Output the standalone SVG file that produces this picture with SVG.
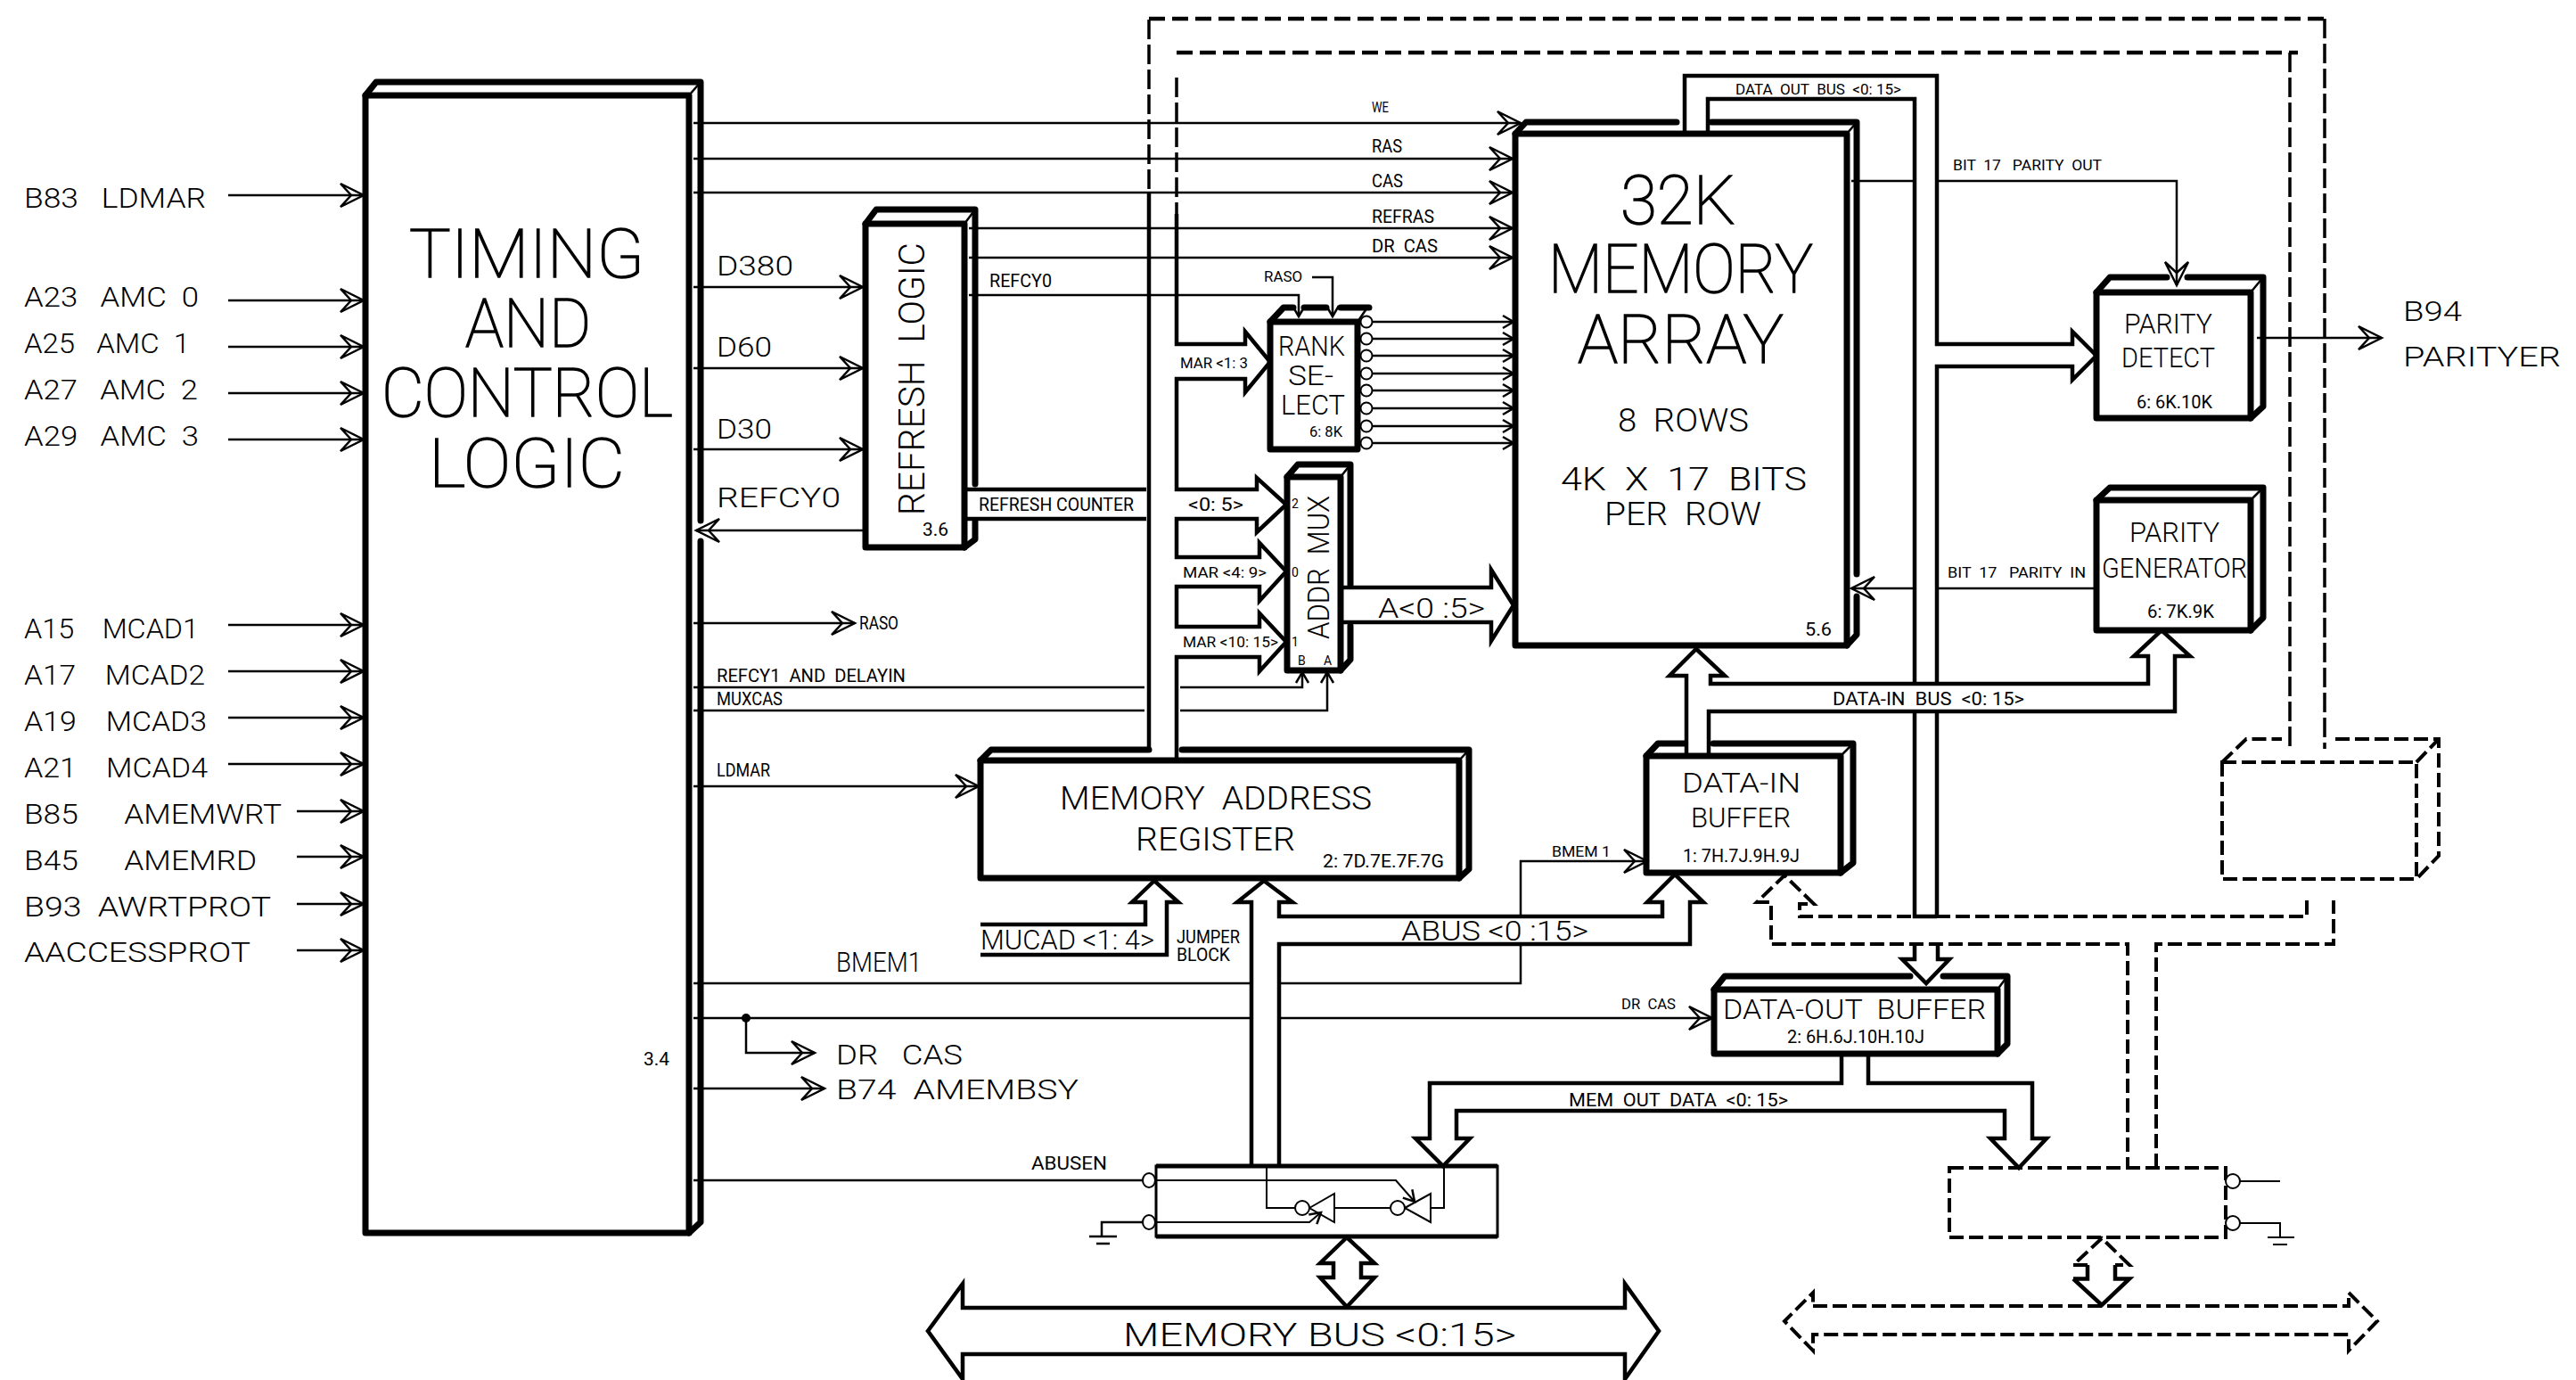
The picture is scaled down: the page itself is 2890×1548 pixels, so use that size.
<svg xmlns="http://www.w3.org/2000/svg" width="2890" height="1548" viewBox="0 0 2890 1548">
<style>
text{font-family:"Roboto","Liberation Sans",sans-serif;fill:#000;white-space:pre;font-weight:300}
.s76{font-size:76px;font-weight:100;stroke:#000;stroke-width:1.6}.s36{font-size:37px;font-weight:300}.s31{font-size:31px}.s20{font-size:20px;font-weight:400}.s17{font-size:17px;font-weight:400}.s14{font-size:14px;font-weight:400}
.f{fill:#fff;stroke:#000;stroke-width:7;stroke-linejoin:round}
.b{fill:none;stroke:#000;stroke-width:7;stroke-linecap:round;stroke-linejoin:round}
.k{fill:none;stroke:#000;stroke-width:2.5}
.w{fill:none;stroke:#000;stroke-width:2}
.a{marker-end:url(#a)}.m{marker-end:url(#m)}
.u{fill:none;stroke:#000;stroke-width:4.5;stroke-linejoin:miter}
.d{fill:none;stroke:#000;stroke-width:4;stroke-dasharray:16 6}
.v{fill:none;stroke:#000;stroke-width:3.5;stroke-dasharray:22 6}
.h{fill:none;stroke:#000;stroke-width:4.5;stroke-dasharray:18 8}
.o{fill:#fff;stroke:#000;stroke-width:2}
</style>
<defs>
<marker id="a" viewBox="-32 -18 36 36" refX="0" refY="0" markerWidth="36" markerHeight="36" orient="auto" markerUnits="userSpaceOnUse"><path d="M-26,-13L0,0L-26,13L-14,0Z" fill="none" stroke="#000" stroke-width="2.5"/></marker>
<marker id="m" viewBox="-16 -10 20 20" refX="0" refY="0" markerWidth="20" markerHeight="20" orient="auto" markerUnits="userSpaceOnUse"><path d="M-12,-7L0,0L-12,7" fill="none" stroke="#000" stroke-width="2.5"/></marker>
</defs>

<g id="timing">
<rect class="f" x="410" y="107" width="363" height="1276"/>
<path class="b" d="M410,107L422,92H786V584M786,607V1371L773,1383"/><path class="k" d="M773,107L786,92"/>
<text class="s76" x="459" y="311" textLength="264" lengthAdjust="spacingAndGlyphs">TIMING</text>
<text class="s76" x="522" y="389" textLength="141" lengthAdjust="spacingAndGlyphs">AND</text>
<text class="s76" x="428" y="467" textLength="327" lengthAdjust="spacingAndGlyphs">CONTROL</text>
<text class="s76" x="481" y="546" textLength="220" lengthAdjust="spacingAndGlyphs">LOGIC</text>
<text class="s20" x="722" y="1195" textLength="29" lengthAdjust="spacingAndGlyphs">3.4</text>
</g>
<g id="refresh-logic">
<rect class="f" x="971" y="251" width="111" height="363"/>
<path class="b" d="M971,251L983,235H1094V543M1094,585V605L1082,614"/><path class="k" d="M1082,251L1094,235"/>
<text class="s36" transform="rotate(-90 1037 578)" x="1037" y="578" textLength="306" lengthAdjust="spacingAndGlyphs" style="font-size:41px">REFRESH  LOGIC</text>
<text class="s20" x="1035" y="601" textLength="29" lengthAdjust="spacingAndGlyphs">3.6</text>
</g>
<g id="rank-select">
<rect class="f" x="1425" y="361" width="98" height="143"/>
<path class="b" d="M1425,361L1440,345H1451M1463,345H1488M1504,345H1536"/><path class="k" d="M1523,361L1534,345"/>
<text class="s31" x="1434" y="399" textLength="75" lengthAdjust="spacingAndGlyphs">RANK</text>
<text class="s31" x="1445" y="432" textLength="51" lengthAdjust="spacingAndGlyphs">SE-</text>
<text class="s31" x="1437" y="465" textLength="72" lengthAdjust="spacingAndGlyphs">LECT</text>
<text class="s17" x="1469" y="490" textLength="37" lengthAdjust="spacingAndGlyphs">6: 8K</text>
<g class="o"><circle cx="1533" cy="361" r="6.5"/><circle cx="1533" cy="380" r="6.5"/><circle cx="1533" cy="399" r="6.5"/><circle cx="1533" cy="419" r="6.5"/><circle cx="1533" cy="438" r="6.5"/><circle cx="1533" cy="458" r="6.5"/><circle cx="1533" cy="478" r="6.5"/><circle cx="1533" cy="497" r="6.5"/></g>
</g>
<g id="addr-mux">
<rect class="f" x="1444" y="535" width="60" height="217"/>
<path class="b" d="M1444,535L1456,521H1515V656M1515,702V740L1504,752"/><path class="k" d="M1504,535L1515,521"/>
<text class="s31" transform="rotate(-90 1491 717)" x="1491" y="717" textLength="161" lengthAdjust="spacingAndGlyphs" style="font-size:34px">ADDR  MUX</text>
<text class="s14" x="1449" y="570">2</text><text class="s14" x="1449" y="647">0</text><text class="s14" x="1449" y="725">1</text>
<text class="s14" x="1456" y="746">B</text><text class="s14" x="1485" y="746">A</text>
</g>
<g id="memory-array">
<rect class="f" x="1700" y="150" width="372" height="574"/>
<path class="b" d="M1700,150L1712,137H1881M1920,137H2083V644M2083,669V712L2072,724"/><path class="k" d="M2072,150L2083,137"/>
<text class="s76" x="1818" y="251" textLength="129" lengthAdjust="spacingAndGlyphs">32K</text>
<text class="s76" x="1737" y="328" textLength="297" lengthAdjust="spacingAndGlyphs">MEMORY</text>
<text class="s76" x="1770" y="407" textLength="231" lengthAdjust="spacingAndGlyphs">ARRAY</text>
<text class="s36" x="1815" y="484" textLength="147" lengthAdjust="spacingAndGlyphs">8  ROWS</text>
<text class="s36" x="1751" y="550" textLength="276" lengthAdjust="spacingAndGlyphs">4K  X  17  BITS</text>
<text class="s36" x="1800" y="589" textLength="176" lengthAdjust="spacingAndGlyphs">PER  ROW</text>
<text class="s20" x="2025" y="713" textLength="30" lengthAdjust="spacingAndGlyphs">5.6</text>
</g>
<g id="parity-detect">
<rect class="f" x="2352" y="328" width="173" height="141"/>
<path class="b" d="M2352,328L2367,311H2431M2454,311H2539V456L2525,469"/><path class="k" d="M2525,328L2539,311"/>
<text class="s31" x="2383" y="374" textLength="99" lengthAdjust="spacingAndGlyphs">PARITY</text>
<text class="s31" x="2380" y="412" textLength="105" lengthAdjust="spacingAndGlyphs">DETECT</text>
<text class="s20" x="2397" y="458" textLength="85" lengthAdjust="spacingAndGlyphs">6: 6K.10K</text>
</g>
<g id="parity-generator">
<rect class="f" x="2352" y="561" width="173" height="146"/>
<path class="b" d="M2352,561L2367,547H2539V693L2525,707"/><path class="k" d="M2525,561L2539,547"/>
<text class="s31" x="2389" y="608" textLength="101" lengthAdjust="spacingAndGlyphs">PARITY</text>
<text class="s31" x="2358" y="648" textLength="163" lengthAdjust="spacingAndGlyphs">GENERATOR</text>
<text class="s20" x="2409" y="693" textLength="75" lengthAdjust="spacingAndGlyphs">6: 7K.9K</text>
</g>
<g id="mar">
<rect class="f" x="1100" y="853" width="537" height="132"/>
<path class="b" d="M1100,853L1112,841H1289M1326,841H1648V975L1637,985"/><path class="k" d="M1637,853L1648,841"/>
<text class="s36" x="1189" y="908" textLength="350" lengthAdjust="spacingAndGlyphs">MEMORY  ADDRESS</text>
<text class="s36" x="1274" y="954" textLength="179" lengthAdjust="spacingAndGlyphs">REGISTER</text>
<text class="s20" x="1484" y="973" textLength="136" lengthAdjust="spacingAndGlyphs">2: 7D.7E.7F.7G</text>
</g>
<g id="data-in-buffer">
<rect class="f" x="1847" y="848" width="218" height="131"/>
<path class="b" d="M1847,848L1860,834H1890M1922,834H2079V968L2065,979"/><path class="k" d="M2065,848L2079,834"/>
<text class="s31" x="1887" y="889" textLength="133" lengthAdjust="spacingAndGlyphs">DATA-IN</text>
<text class="s31" x="1897" y="928" textLength="112" lengthAdjust="spacingAndGlyphs">BUFFER</text>
<text class="s20" x="1888" y="967" textLength="131" lengthAdjust="spacingAndGlyphs">1: 7H.7J.9H.9J</text>
</g>
<g id="data-out-buffer">
<rect class="f" x="1923" y="1110" width="318" height="72"/>
<path class="b" d="M1923,1110L1935,1095H2143M2180,1095H2252V1171L2241,1182"/><path class="k" d="M2241,1110L2252,1095"/>
<text class="s31" x="1933" y="1143" textLength="295" lengthAdjust="spacingAndGlyphs">DATA-OUT  BUFFER</text>
<text class="s20" x="2005" y="1170" textLength="154" lengthAdjust="spacingAndGlyphs">2: 6H.6J.10H.10J</text>
</g>
<g id="bus-transceiver">
<rect x="1297" y="1308" width="383" height="79" fill="#fff" stroke="#000" stroke-width="3"/>
<path d="M1297,1308H1680M1297,1387H1680" stroke="#000" stroke-width="5"/>
<ellipse class="o" cx="1289" cy="1324" rx="7" ry="8"/><ellipse class="o" cx="1289" cy="1371" rx="7" ry="8"/>
<path class="w" d="M1469,1355L1497,1339V1371ZM1576,1355L1605,1339V1371Z"/>
<circle class="o" cx="1461" cy="1355" r="8"/><circle class="o" cx="1568" cy="1355" r="8"/>
<path class="w" d="M1453,1355H1421V1308M1497,1355H1560M1605,1355H1620V1308"/>
<path class="w m" d="M1297,1324H1566L1587,1348"/><path class="w m" d="M1297,1371H1469L1482,1360"/>
</g>
<g id="memory-bus">
<path class="u" d="M1080,1467H1823V1440L1861,1493L1823,1547V1519H1080V1547L1041,1493L1080,1440Z"/>
<text class="s36" x="1260" y="1510" textLength="441" lengthAdjust="spacingAndGlyphs">MEMORY BUS &lt;0:15&gt;</text>
</g>
<g id="dashed-box">
<rect class="d" x="2493" y="855" width="218" height="131"/>
<path class="d" d="M2493,855L2520,829H2560M2620,829H2736V960L2711,986M2711,855L2736,829"/>
</g>
<g id="dashed-transceiver">
<rect class="d" x="2187" y="1310" width="310" height="78"/>
<circle class="o" cx="2505" cy="1325" r="8"/><circle class="o" cx="2505" cy="1372" r="8"/>
<path class="w" d="M2513,1325H2558M2513,1372H2558V1388M2544,1388H2574M2550,1396H2566"/>
</g>
<g id="dashed-bus"><path class="d" d="M2034,1465H2635V1450L2667,1482L2635,1515V1497H2034V1515L2002,1482L2034,1450Z"/></g>

<g id="connectors">
<g class="k">
<path class="a" d="M256,219H408"/><path class="a" d="M256,337H408"/><path class="a" d="M256,389H408"/><path class="a" d="M256,441H408"/><path class="a" d="M256,493H408"/>
<path class="a" d="M256,701H408"/><path class="a" d="M256,753H408"/><path class="a" d="M256,805H408"/><path class="a" d="M256,857H408"/>
<path class="a" d="M333,910H408"/><path class="a" d="M333,961H408"/><path class="a" d="M333,1014H408"/><path class="a" d="M333,1066H408"/>
<path class="a" d="M778,138H1706"/><path class="a" d="M778,178H1697"/><path class="a" d="M778,216H1697"/><path class="a" d="M1087,256H1697"/><path class="a" d="M1087,289H1697"/>
<path class="a" d="M778,322H968"/><path class="a" d="M778,413H968"/><path class="a" d="M778,504H968"/><path class="a" d="M971,595H781"/>
<path class="a" d="M778,699H959"/><path class="a" d="M778,882H1098"/>
<path class="m" d="M1087,331H1457V355"/><path class="m" d="M1472,311H1495V355"/>
<path d="M778,771H1284"/><path class="m" d="M1324,771H1461V754"/><path d="M778,797H1284"/><path class="m" d="M1324,797H1489V754"/>
<path class="m" d="M1540,361H1698"/><path class="m" d="M1540,380H1698"/><path class="m" d="M1540,399H1698"/><path class="m" d="M1540,419H1698"/><path class="m" d="M1540,438H1698"/><path class="m" d="M1540,458H1698"/><path class="m" d="M1540,478H1698"/><path class="m" d="M1540,497H1698"/>
<path d="M2077,203H2148"/><path class="a" d="M2173,203H2442V320"/>
<path d="M2352,660H2173"/><path class="a" d="M2148,660H2077"/>
<path class="a" d="M2532,379H2672"/>
<path d="M778,1103H1404"/><path d="M1437,1103H1706V1059"/><path class="a" d="M1706,1028V966H1848"/>
<path d="M778,1142H1404"/><path class="a" d="M1437,1142H1921"/><path class="a" d="M837,1142V1181H914"/>
<path class="a" d="M778,1221H925"/>
<path d="M778,1324H1282M1282,1371H1236V1387M1222,1387H1253M1230,1395H1245"/>
</g>
<circle cx="837" cy="1142" r="5"/>
<g id="buses">
<path class="u" d="M1289,216V841M1082,549H1286M1082,582H1286"/>
<path class="u" d="M1320,240V386H1397V372L1425,406L1397,440V425H1320V549H1410V536L1443,566L1410,597V582H1320V625H1413V609L1443,641L1413,674V658H1320V703H1413V688L1443,720L1413,753V737H1320V853"/>
<path class="u" d="M1504,659H1673V639L1698,679L1673,719V698H1504"/>
<path class="u" d="M1892,848V758H1873L1903,728L1935,758H1919V767H2410V736H2394L2425,707L2457,736H2440V798H1917V848"/>
<path class="u" d="M1890,150V85H2173V386H2325V372L2352,399L2325,426V411H2173V767M2173,798V1028M1916,150V111H2148V767M2148,798V1028H2173M2148,1059V1076H2134L2161,1103L2187,1076H2174V1059"/>
<path class="u" d="M1404,1307V1012H1388L1418,988L1450,1012H1435V1028H1865V1012H1848L1879,981L1911,1012H1896V1059H1435V1307"/>
<path class="u" d="M1100,1037H1285V1012H1270L1295,988L1322,1012H1309V1071H1100"/>
<path class="u" d="M2066,1182V1215H1604V1277H1588L1619,1308L1649,1277H1634V1246H2249V1277H2233L2265,1310L2296,1277H2280V1215H2096V1182"/>
<path class="u" d="M1511,1388L1542,1417H1527V1433H1542L1511,1466L1481,1433H1496V1417H1481Z"/>
<path class="u" d="M2326,1434.5H2342V1419M2373,1419V1434.5H2389L2358,1464L2326,1434.5"/>
<path class="d" d="M2342,1419H2326L2358,1389L2389,1419H2373"/>
</g>
<path class="h" d="M1289,21H2608"/><path class="h" d="M1320,59H2578"/>
<path class="v" d="M1289,212V21M2608,21V840M1320,87V240M2569,59V840"/>
<path class="d" d="M2588,1010V1028H2019V1014H2035L2002,982L1971,1012H1987V1059H2387V1310M2419,1310V1059H2618V1010"/>
</g>

<g id="labels">
<text class="s31" x="27" y="233" textLength="204" lengthAdjust="spacingAndGlyphs">B83   LDMAR</text>
<text class="s31" x="27" y="344" textLength="196" lengthAdjust="spacingAndGlyphs">A23   AMC  0</text>
<text class="s31" x="27" y="396" textLength="186" lengthAdjust="spacingAndGlyphs">A25   AMC  1</text>
<text class="s31" x="27" y="448" textLength="195" lengthAdjust="spacingAndGlyphs">A27   AMC  2</text>
<text class="s31" x="27" y="500" textLength="196" lengthAdjust="spacingAndGlyphs">A29   AMC  3</text>
<text class="s31" x="27" y="716" textLength="196" lengthAdjust="spacingAndGlyphs">A15    MCAD1</text>
<text class="s31" x="27" y="768" textLength="203" lengthAdjust="spacingAndGlyphs">A17    MCAD2</text>
<text class="s31" x="27" y="820" textLength="205" lengthAdjust="spacingAndGlyphs">A19    MCAD3</text>
<text class="s31" x="27" y="872" textLength="206" lengthAdjust="spacingAndGlyphs">A21    MCAD4</text>
<text class="s31" x="27" y="924" textLength="289" lengthAdjust="spacingAndGlyphs">B85      AMEMWRT</text>
<text class="s31" x="27" y="976" textLength="261" lengthAdjust="spacingAndGlyphs">B45      AMEMRD</text>
<text class="s31" x="27" y="1028" textLength="277" lengthAdjust="spacingAndGlyphs">B93  AWRTPROT</text>
<text class="s31" x="27" y="1079" textLength="254" lengthAdjust="spacingAndGlyphs">AACCESSPROT</text>
<text class="s31" x="804" y="309" textLength="86" lengthAdjust="spacingAndGlyphs">D380</text>
<text class="s31" x="804" y="400" textLength="62" lengthAdjust="spacingAndGlyphs">D60</text>
<text class="s31" x="804" y="492" textLength="62" lengthAdjust="spacingAndGlyphs">D30</text>
<text class="s31" x="804" y="569" textLength="139" lengthAdjust="spacingAndGlyphs">REFCY0</text>
<text class="s20" x="964" y="706" textLength="44" lengthAdjust="spacingAndGlyphs">RASO</text>
<text class="s20" x="804" y="765" textLength="212" lengthAdjust="spacingAndGlyphs">REFCY1  AND  DELAYIN</text>
<text class="s20" x="804" y="791" textLength="74" lengthAdjust="spacingAndGlyphs">MUXCAS</text>
<text class="s20" x="804" y="871" textLength="60" lengthAdjust="spacingAndGlyphs">LDMAR</text>
<text class="s31" x="938" y="1090" textLength="96" lengthAdjust="spacingAndGlyphs">BMEM1</text>
<text class="s31" x="938" y="1194" textLength="142" lengthAdjust="spacingAndGlyphs">DR   CAS</text>
<text class="s31" x="938" y="1233" textLength="272" lengthAdjust="spacingAndGlyphs">B74  AMEMBSY</text>
<text class="s20" x="1157" y="1312" textLength="85" lengthAdjust="spacingAndGlyphs">ABUSEN</text>
<text class="s20" x="1110" y="322" textLength="70" lengthAdjust="spacingAndGlyphs">REFCY0</text>
<text class="s17" x="1418" y="316" textLength="43" lengthAdjust="spacingAndGlyphs">RASO</text>
<text class="s20" x="1098" y="573" textLength="174" lengthAdjust="spacingAndGlyphs">REFRESH COUNTER</text>
<text class="s17" x="1324" y="413" textLength="76" lengthAdjust="spacingAndGlyphs">MAR &lt;1: 3</text>
<text class="s20" x="1333" y="573" textLength="62" lengthAdjust="spacingAndGlyphs">&lt;0: 5&gt;</text>
<text class="s17" x="1327" y="648" textLength="94" lengthAdjust="spacingAndGlyphs">MAR &lt;4: 9&gt;</text>
<text class="s17" x="1327" y="726" textLength="107" lengthAdjust="spacingAndGlyphs">MAR &lt;10: 15&gt;</text>
<text class="s31" x="1546" y="693" textLength="120" lengthAdjust="spacingAndGlyphs">A&lt;0 :5&gt;</text>
<text class="s17" x="1539" y="126" textLength="19" lengthAdjust="spacingAndGlyphs">WE</text>
<text class="s20" x="1539" y="171" textLength="34" lengthAdjust="spacingAndGlyphs">RAS</text>
<text class="s20" x="1539" y="210" textLength="35" lengthAdjust="spacingAndGlyphs">CAS</text>
<text class="s20" x="1539" y="250" textLength="70" lengthAdjust="spacingAndGlyphs">REFRAS</text>
<text class="s20" x="1539" y="283" textLength="74" lengthAdjust="spacingAndGlyphs">DR  CAS</text>
<text class="s17" x="1947" y="106" textLength="186" lengthAdjust="spacingAndGlyphs">DATA  OUT  BUS  &lt;0: 15&gt;</text>
<text class="s17" x="2191" y="191" textLength="167" lengthAdjust="spacingAndGlyphs">BIT  17   PARITY  OUT</text>
<text class="s17" x="2185" y="648" textLength="155" lengthAdjust="spacingAndGlyphs">BIT  17   PARITY  IN</text>
<text class="s20" x="2056" y="791" textLength="215" lengthAdjust="spacingAndGlyphs">DATA-IN  BUS  &lt;0: 15&gt;</text>
<text class="s31" x="2696" y="360" textLength="66" lengthAdjust="spacingAndGlyphs">B94</text>
<text class="s31" x="2696" y="411" textLength="177" lengthAdjust="spacingAndGlyphs">PARITYER</text>
<text class="s31" x="1100" y="1065" textLength="195" lengthAdjust="spacingAndGlyphs">MUCAD &lt;1: 4&gt;</text>
<text class="s20" x="1320" y="1058" textLength="71" lengthAdjust="spacingAndGlyphs">JUMPER</text>
<text class="s20" x="1320" y="1078" textLength="60" lengthAdjust="spacingAndGlyphs">BLOCK</text>
<text class="s31" x="1572" y="1055" textLength="210" lengthAdjust="spacingAndGlyphs">ABUS &lt;0 :15&gt;</text>
<text class="s17" x="1741" y="961" textLength="66" lengthAdjust="spacingAndGlyphs">BMEM 1</text>
<text class="s17" x="1819" y="1132" textLength="61" lengthAdjust="spacingAndGlyphs">DR  CAS</text>
<text class="s20" x="1760" y="1241" textLength="246" lengthAdjust="spacingAndGlyphs">MEM  OUT  DATA  &lt;0: 15&gt;</text>
</g>
</svg>
